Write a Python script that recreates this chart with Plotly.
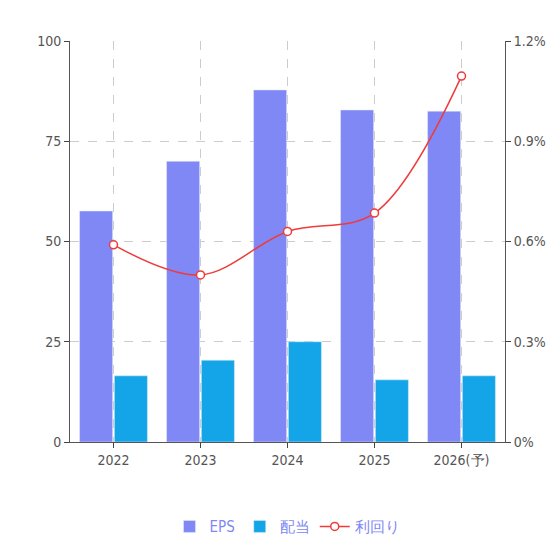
import plotly.graph_objects as go

years = ["2022", "2023", "2024", "2025", "2026(予)"]
eps = [57.6, 70.0, 87.8, 82.8, 82.5]
dividend = [16.5, 20.4, 25.0, 15.5, 16.5]
yield_pct = [0.59, 0.50, 0.63, 0.685, 1.095]

fig = go.Figure()
fig.add_bar(x=years, y=eps, name="EPS", marker_color="#8088f5")
fig.add_bar(x=years, y=dividend, name="配当", marker_color="#14a5e8")
fig.add_scatter(x=years, y=yield_pct, name="利回り", yaxis="y2", mode="lines+markers",
                line=dict(color="#ee3b3b", width=1.5, shape="spline"),
                marker=dict(color="white", size=8, line=dict(color="#ee3b3b", width=1.5)))

grid = dict(showgrid=True, gridcolor="#cccccc", griddash="dash", gridwidth=1)
fig.update_layout(
    width=560, height=560, plot_bgcolor="white", paper_bgcolor="white",
    margin=dict(l=62, r=63, t=33, b=126, autoexpand=False),
    bargap=0.2, bargroupgap=0.05,
    font=dict(family="Liberation Sans Narrow, DejaVu Sans Condensed, sans-serif", size=14, color="#555"),
    xaxis=dict(**grid, showline=True, linecolor="#555", ticks="outside", ticklen=5, automargin=False),
    yaxis=dict(range=[0, 100], tickvals=[0, 25, 50, 75, 100], **grid, automargin=False,
               showline=True, linecolor="#555", ticks="outside", ticklen=5, zeroline=False),
    yaxis2=dict(range=[0, 1.2], tickvals=[0, 0.3, 0.6, 0.9, 1.2], automargin=False,
                ticktext=["0%", "0.3%", "0.6%", "0.9%", "1.2%"], overlaying="y", side="right",
                showgrid=False, showline=True, linecolor="#555", ticks="outside", ticklen=5),
    legend=dict(orientation="h", x=0.5, xanchor="center", y=-0.17, yanchor="top",
                font=dict(color="#8088f5", size=15)),
)
fig.write_html("out.html")
